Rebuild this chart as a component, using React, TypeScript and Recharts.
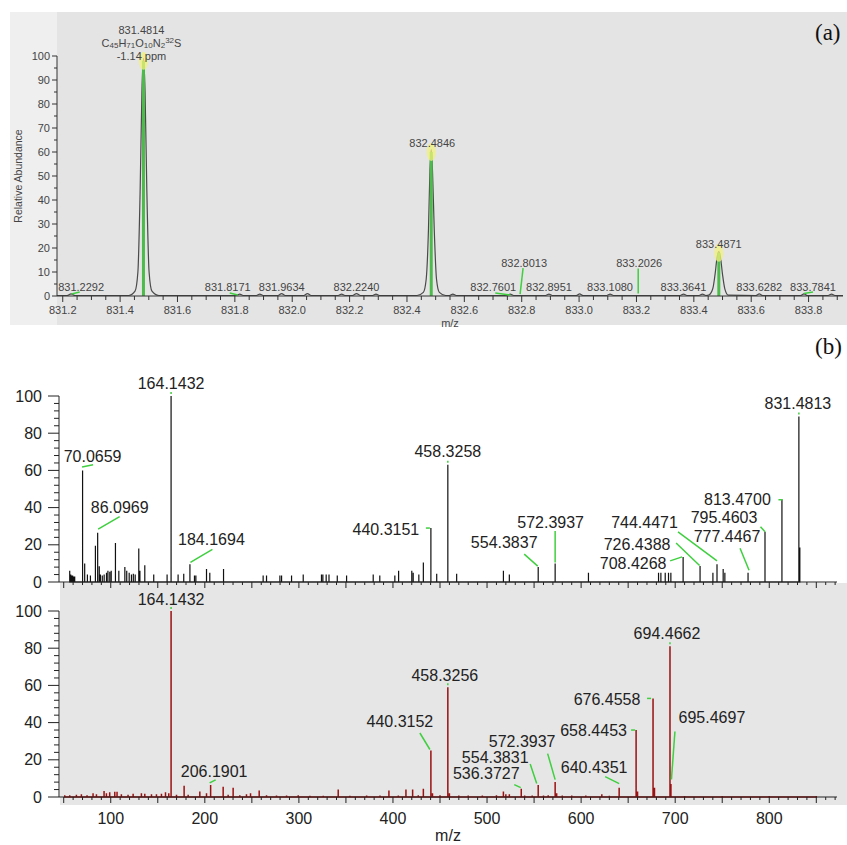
import { ComposedChart, Line, Scatter, XAxis, YAxis } from 'recharts';

const FONT = '"Liberation Sans", Arial, sans-serif';
const GREEN = '#3fcf3f';

// ---------- panel (a): isotope pattern ----------
const isoSticks: [number, number][] = [
  [831.4814, 98],
  [832.4846, 60],
  [833.4871, 18],
];

// profile trace (m/z, abundance)
const isoProfile: [number, number][] = [
  [831.18, 0.2], [831.215, 0.2], [831.229, 0.9], [831.243, 0.2],
  [831.43, 0.2], [831.452, 2], [831.462, 10], [831.47, 45], [831.476, 85], [831.4814, 99],
  [831.487, 85], [831.493, 45], [831.501, 10], [831.511, 2], [831.535, 0.2],
  [831.805, 0.2], [831.817, 0.8], [831.829, 0.2], [831.875, 0.2], [831.887, 0.8], [831.899, 0.2],
  [831.95, 0.2], [831.963, 1], [831.976, 0.2], [832.04, 0.2], [832.053, 1], [832.066, 0.2],
  [832.16, 0.2], [832.172, 0.8], [832.184, 0.2], [832.21, 0.2], [832.224, 1], [832.238, 0.2],
  [832.28, 0.2], [832.292, 0.8], [832.304, 0.2],
  [832.435, 0.2], [832.457, 1.5], [832.467, 7], [832.475, 28], [832.48, 52], [832.4846, 61],
  [832.489, 52], [832.495, 28], [832.503, 7], [832.513, 1.5], [832.535, 0.2],
  [832.548, 0.2], [832.56, 0.8], [832.572, 0.2],
  [832.748, 0.2], [832.76, 0.8], [832.772, 0.2], [832.883, 0.2], [832.895, 0.8], [832.907, 0.2],
  [832.99, 0.2], [833.002, 0.9], [833.014, 0.2], [833.096, 0.2], [833.108, 0.8], [833.12, 0.2],
  [833.352, 0.2], [833.364, 0.8], [833.376, 0.2], [833.418, 0.2], [833.43, 0.8], [833.442, 0.2],
  [833.452, 0.4], [833.466, 3], [833.474, 9], [833.481, 16], [833.4871, 18.5],
  [833.493, 16], [833.5, 9], [833.508, 3], [833.52, 0.4],
  [833.616, 0.2], [833.628, 0.9], [833.64, 0.2], [833.772, 0.2], [833.784, 0.9], [833.796, 0.2],
  [833.868, 0.2], [833.88, 0.8], [833.892, 0.2], [833.92, 0.2],
];

const isoLabels: [string, number][] = [
  ['831.2292', 1], ['831.8171', 1], ['831.9634', 1], ['832.2240', 1],
  ['832.4846', 60], ['832.7601', 1], ['832.8013', 1], ['832.8951', 1],
  ['833.1080', 1], ['833.2026', 1], ['833.3641', 1], ['833.4871', 18],
  ['833.6282', 1], ['833.7841', 1],
];
const isoMain = { mz: 831.4814, ab: 98, ppm: '-1.14 ppm' };

const isoXLabels = ['831.2', '831.4', '831.6', '831.8', '832.0', '832.2', '832.4', '832.6', '832.8', '833.0', '833.2', '833.4', '833.6', '833.8'];
const isoXTicks = Array.from({ length: 55 }, (_, i) => Math.round((831.2 + i * 0.05) * 100) / 100);
const isoYTicks = Array.from({ length: 21 }, (_, i) => i * 5);

// ---------- panel (b): MS/MS spectra ----------
const topPeaks: [number, number][] = [
  [56.4, 6], [57.5, 4], [58.5, 3.5], [59.5, 3.5], [60.5, 3], [61.7, 3],
  [70.0659, 60], [72.3, 10], [75.2, 4], [78.4, 3.5],
  [83.7, 19.5], [86.0969, 26.5], [87.8, 8.5], [89, 4], [91, 3.5], [93, 4], [95.5, 5], [97, 6], [99, 5.5], [100.5, 6],
  [105, 21], [108.6, 6], [115, 8], [117, 6], [119.6, 5], [122, 4], [124, 4.5], [126, 4], [129.8, 18], [131, 6], [136.2, 9],
  [145.7, 4], [159.9, 4], [164.1432, 100], [171.6, 4], [177.6, 4.5], [184.1694, 9.5], [189, 3.5], [190.5, 3.5],
  [201.8, 7], [205.3, 5], [219.9, 7],
  [262, 3.5], [265.6, 3.5], [279.8, 3.5], [281.6, 3.5], [292.2, 3.5], [304.6, 4], [324, 4], [325.5, 4], [329, 4], [332, 4],
  [340.8, 3.5], [350.7, 3.5], [379, 4], [386, 3.5], [402, 3.5], [406, 6], [420, 6], [421.5, 5], [427.5, 4], [432.3, 10.5],
  [440.3151, 29], [446.5, 4.5], [458.3258, 63], [467.7, 4.5], [517.4, 6], [523.7, 4], [554.3837, 8], [572.3937, 10],
  [607.8, 5], [682.3, 5], [684.8, 5], [689.4, 5], [692.9, 5], [695.4, 5],
  [708.4268, 13.5], [726.4388, 8.6], [740.1, 5], [744.4471, 9.5], [751, 7], [752.8, 5], [777.4467, 5],
  [795.4603, 27], [813.47, 44.5], [831.4813, 89], [832.5, 18.5],
];

const bottomPeaks: [number, number][] = [
  [51.1, 1], [56.4, 1], [63.5, 1.2], [68.8, 1.5], [74.8, 1], [81.2, 2], [84.8, 1.5], [92.9, 3.2], [95.4, 2],
  [98.9, 2.5], [104.3, 2.8], [106.7, 2.8], [111.3, 1.5], [118.4, 1.2], [123.8, 1.8], [132.6, 2], [136.2, 1.8],
  [143.3, 1.5], [148.6, 1.5], [153.9, 1.8], [158.2, 2.5], [161.7, 2], [164.1432, 100], [169.9, 1.2], [178, 6],
  [182.3, 1.2], [194.7, 3], [201.8, 2], [206.1901, 6.5], [219.5, 5.5], [224.8, 1.2], [230.1, 5], [237.2, 1],
  [244.3, 1.5], [248.6, 2], [257.8, 3.5], [265.6, 1], [276.2, 0.8], [286.9, 0.8], [299.3, 1], [311.7, 0.7],
  [325.9, 0.7], [341.8, 4], [354.2, 0.7], [372, 0.8], [386.2, 0.8], [395.7, 3.5], [405.7, 0.8], [413.8, 4],
  [420.9, 4], [426.9, 1], [432.3, 4.5], [440.3152, 25], [442, 2], [450, 1], [458.3256, 59], [460, 2], [470, 0.8],
  [480, 0.8], [495, 0.8], [510, 1], [517.4, 3], [520, 1.5], [523.7, 1.5], [536.3727, 4.5], [540, 0.8], [548, 0.8],
  [554.3831, 6.5], [560, 0.8], [565, 1], [572.3937, 8], [574, 2], [580, 0.8], [590, 0.8], [605, 0.8], [622, 1.5],
  [630, 0.7], [640.4351, 5], [658.4453, 36], [660, 3], [676.4558, 53], [678, 5], [694.4662, 81], [695.4697, 7],
  [710, 0.5], [750, 0.5], [800, 0.5], [850, 0.5],
];

const topLabels: [string, number][] = [
  ['70.0659', 60], ['86.0969', 26.5], ['164.1432', 100], ['184.1694', 9.5], ['440.3151', 29], ['458.3258', 63],
  ['554.3837', 8], ['572.3937', 10], ['708.4268', 13.5], ['726.4388', 8.6], ['744.4471', 9.5], ['777.4467', 5],
  ['795.4603', 27], ['813.4700', 44.5], ['831.4813', 89],
];
const bottomLabels: [string, number][] = [
  ['164.1432', 100], ['206.1901', 6.5], ['440.3152', 25], ['458.3256', 59], ['536.3727', 4.5], ['554.3831', 6.5],
  ['572.3937', 8], ['640.4351', 5], ['658.4453', 36], ['676.4558', 53], ['694.4662', 81], ['695.4697', 7],
];

const specXTicks = Array.from({ length: 83 }, (_, i) => 50 + i * 10);
const specYTicks = Array.from({ length: 26 }, (_, i) => i * 4);

// label placement: t = text centre offset, l = green leader (x1,y1,x2,y2) from the peak top
type Pos = { t: [number, number]; l?: [number, number, number, number] };
const ABOVE: Pos = { t: [0, -13], l: [0, -2, 0, -4] };

const isoPos: Record<string, Pos> = {
  '831.2292': { t: [10, -7], l: [0.5, 0.5, 8.5, -1.5] },
  '831.8171': { t: [-12, -7], l: [-10, -0.5, -2, 1.5] },
  '831.9634': { t: [0, -7] },
  '832.2240': { t: [0, -7] },
  '832.4846': { t: [1, -9] },
  '832.7601': { t: [-17, -7], l: [-15, -0.5, 0, 1.5] },
  '832.8013': { t: [2, -31], l: [-2, 0.5, 1, -25.5] },
  '832.8951': { t: [0, -7] },
  '833.1080': { t: [0, -7] },
  '833.2026': { t: [2, -31], l: [1, 0, 1, -25] },
  '833.3641': { t: [0, -7] },
  '833.4871': { t: [0, -9] },
  '833.6282': { t: [0, -7] },
  '833.7841': { t: [9, -7], l: [0, 0, 9, -1.5] },
};

const topPos: Record<string, Pos> = {
  '70.0659': { t: [10, -14], l: [-0.5, -3.5, 10.5, -5.7] },
  '86.0969': { t: [22, -25], l: [0.5, -3.5, 22, -16] },
  '184.1694': { t: [21.5, -24.5], l: [0.5, -2, 22.5, -15] },
  '440.3151': { t: [-45, 1], l: [-5, 0, -1, 0] },
  '554.3837': { t: [-34, -25], l: [-14, -13, -0.5, -1] },
  '572.3937': { t: [-4.5, -41], l: [0, -1, 0, -32.5] },
  '708.4268': { t: [-50, 7], l: [-13, 4, -1, 0] },
  '726.4388': { t: [-63, -22], l: [-24, -23, -0.5, -0.5] },
  '744.4471': { t: [-72.5, -41.5], l: [-39, -32.5, 0, -3.5] },
  '777.4467': { t: [-21, -36], l: [-8, -24.5, 1, -2.5] },
  '795.4603': { t: [-41, -14], l: [-4.5, -5, 0, 0] },
  '813.4700': { t: [-44.5, 0.5], l: [-3.5, 0.5, 0.5, 0.5] },
  '831.4813': { t: [-1, -13], l: [0, -2, 0, -4] },
};

const bottomPos: Record<string, Pos> = {
  '164.1432': { t: [0, -12], l: [0, -2, 0, -4] },
  '206.1901': { t: [3.5, -13], l: [-1, -2, 5, -5] },
  '440.3152': { t: [-31, -29], l: [-11, -17.5, -1, -1] },
  '458.3256': { t: [-3, -12], l: [0, -2, 0, -4] },
  '536.3727': { t: [-35, -15], l: [-7, -4, -0.5, -1] },
  '554.3831': { t: [-43, -27], l: [-8, -21, -1.5, -1.5] },
  '572.3937': { t: [-33, -41], l: [-7.5, -28.5, 0, -2.5] },
  '640.4351': { t: [-25, -20], l: [-14, -11, 0, -4] },
  '658.4453': { t: [-42.5, 0], l: [-5, 0, -1, 0] },
  '676.4558': { t: [-46, 1], l: [-6, 0, -2, 0] },
  '694.4662': { t: [-3, -13], l: [0, -2, 0, -4] },
  '695.4697': { t: [41, -66], l: [0.5, -4.5, 4, -52.5] },
};

const toSticks = (peaks: [number, number][]) =>
  [...peaks].sort((a, b) => a[0] - b[0]).flatMap(([m, h]) => [{ m, v: 0 }, { m, v: h }, { m, v: 0 }]);
const toBars = (peaks: [number, number][]) =>
  peaks.flatMap(([m, h]) => [{ m, v: 0 }, { m, v: h }, { m, v: null }]);
const toLabels = (labels: [string, number][]) => labels.map(([text, h]) => ({ m: parseFloat(text), v: h, text }));

const makeLabel = (pos: Record<string, Pos>, size: number, color: string) => (props: any) => {
  const { cx, cy, payload } = props;
  const p = pos[payload.text] ?? ABOVE;
  return (
    <g>
      {p.l && (
        <line x1={cx + p.l[0]} y1={cy + p.l[1]} x2={cx + p.l[2]} y2={cy + p.l[3]} stroke={GREEN} strokeWidth={1.5} />
      )}
      <text x={cx + p.t[0]} y={cy + p.t[1]} textAnchor="middle" dominantBaseline="central"
        fontSize={size} fill={color} fontFamily={FONT}>
        {payload.text}
      </text>
    </g>
  );
};

const MainIsoLabel = (props: any) => {
  const { cx, cy } = props;
  const st = { fontSize: 11, fill: '#444', fontFamily: FONT } as const;
  return (
    <g>
      <text x={cx - 2} y={cy - 31} textAnchor="middle" dominantBaseline="central" {...st}>{isoMain.mz.toFixed(4)}</text>
      <text x={cx - 2} y={cy - 18} textAnchor="middle" dominantBaseline="central" {...st}>
        C<tspan dy={2} fontSize={8}>45</tspan>
        <tspan dy={-2}>H</tspan><tspan dy={2} fontSize={8}>71</tspan>
        <tspan dy={-2}>O</tspan><tspan dy={2} fontSize={8}>10</tspan>
        <tspan dy={-2}>N</tspan><tspan dy={2} fontSize={8}>2</tspan>
        <tspan dy={-5} fontSize={8}>32</tspan><tspan dy={3}>S</tspan>
      </text>
      <text x={cx - 2} y={cy - 5} textAnchor="middle" dominantBaseline="central" {...st}>{isoMain.ppm}</text>
    </g>
  );
};

const Glow = (props: any) => (
  <ellipse cx={props.cx} cy={props.cy} rx={4.5} ry={9} fill="#f2f27a" opacity={0.75} />
);

const IsoXTick = (props: any) => {
  const { x, y, payload } = props;
  const v = payload.value as number;
  const major = Math.round(v * 100) % 20 === 0;
  const lbl = isoXLabels.find((s) => Math.abs(parseFloat(s) - v) < 1e-6);
  return (
    <g>
      <line x1={x} y1={y} x2={x} y2={y + (major ? 6 : 4)} stroke="#333" />
      {lbl && (
        <text x={x} y={y + 14} textAnchor="middle" dominantBaseline="central" fontSize={11} fill="#444" fontFamily={FONT}>
          {lbl}
        </text>
      )}
    </g>
  );
};

const IsoYTick = (props: any) => {
  const { x, y, payload } = props;
  const v = payload.value as number;
  const major = v % 10 === 0;
  return (
    <g>
      <line x1={x} y1={y} x2={x - (major ? 5 : 3)} y2={y} stroke="#333" />
      {major && (
        <text x={x - 7} y={y} textAnchor="end" dominantBaseline="central" fontSize={11} fill="#444" fontFamily={FONT}>
          {v}
        </text>
      )}
    </g>
  );
};

const SpecYTick = (props: any) => {
  const { x, y, payload } = props;
  const v = payload.value as number;
  const major = v % 20 === 0;
  return (
    <g>
      <line x1={x} y1={y} x2={x - (major ? 11 : 5)} y2={y} stroke="#222" />
      {major && (
        <text x={x - 17} y={y} textAnchor="end" dominantBaseline="central" fontSize={16} fill="#222" fontFamily={FONT}>
          {v}
        </text>
      )}
    </g>
  );
};

const makeSpecXTick = (showLabels: boolean) => (props: any) => {
  const { x, y, payload } = props;
  const v = payload.value as number;
  const major = v % 50 === 0;
  return (
    <g>
      <line x1={x} y1={y} x2={x} y2={y + (major ? 6 : 3)} stroke="#222" />
      {showLabels && v % 100 === 0 && (
        <text x={x} y={y + 21} textAnchor="middle" dominantBaseline="central" fontSize={16} fill="#222" fontFamily={FONT}>
          {v}
        </text>
      )}
    </g>
  );
};

export default function App() {
  const profileData = isoProfile.map(([m, v]) => ({ m, v }));
  const isoTops = isoSticks.map(([m, v]) => ({ m, v }));
  return (
    <div style={{ position: 'absolute', left: 0, top: 0, width: 847, height: 845, background: '#fff', overflow: 'hidden' }}>
      {/* panel (a) backgrounds */}
      <div style={{ position: 'absolute', left: 10, top: 12, width: 837, height: 313, background: '#efefef' }} />
      <div style={{ position: 'absolute', left: 57, top: 12, width: 790, height: 313, background: '#e4e4e4' }} />
      <div style={{ position: 'absolute', left: 10, top: 12 }}>
        <ComposedChart width={837} height={318} margin={{ top: 44, right: 4, left: 0, bottom: 0 }}>
          <XAxis type="number" dataKey="m" domain={[831.18, 833.92]} ticks={isoXTicks} interval={0}
            tickSize={0} tickMargin={0} tickLine={false} tick={<IsoXTick />} height={34}
            axisLine={{ stroke: '#333' }}
            label={{ value: 'm/z', position: 'insideBottom', offset: 3, style: { fontSize: 11, fill: '#444', fontFamily: FONT } }} />
          <YAxis type="number" domain={[0, 100]} ticks={isoYTicks} interval={0} width={47}
            tickSize={0} tickMargin={0} tickLine={false} tick={<IsoYTick />} axisLine={{ stroke: '#333' }}
            label={{ value: 'Relative Abundance', angle: -90, position: 'insideLeft', offset: 8,
              style: { textAnchor: 'middle', fontSize: 10.5, fill: '#444', fontFamily: FONT } }} />
          <Scatter data={isoTops} dataKey="v" shape={<Glow />} isAnimationActive={false} />
          <Line data={profileData} dataKey="v" type="monotone" stroke="#4a4a4a" strokeWidth={1.2} dot={false} isAnimationActive={false} />
          <Line data={toBars(isoSticks)} dataKey="v" type="linear" stroke="#4cbb4c" strokeWidth={3} dot={false} isAnimationActive={false} />
          <Scatter data={toLabels(isoLabels)} dataKey="v" shape={makeLabel(isoPos, 11, '#444')} isAnimationActive={false} />
          <Scatter data={[{ m: isoMain.mz, v: isoMain.ab }]} dataKey="v" shape={<MainIsoLabel />} isAnimationActive={false} />
        </ComposedChart>
      </div>
      <div style={{ position: 'absolute', left: 815, top: 20, fontSize: 23, fontFamily: '"Liberation Serif", serif', color: '#111' }}>(a)</div>

      {/* panel (b) bottom (red) */}
      <div style={{ position: 'absolute', left: 60, top: 583, width: 787, height: 222, background: '#e6e6e6' }} />
      <div style={{ position: 'absolute', left: 0, top: 583 }}>
        <ComposedChart width={847} height={262} margin={{ top: 28, right: 10, left: 0, bottom: 0 }}>
          <XAxis type="number" dataKey="m" domain={[45, 872]} ticks={specXTicks} interval={0}
            tickSize={0} tickMargin={0} tickLine={false} tick={makeSpecXTick(true)} height={48}
            axisLine={{ stroke: '#222' }}
            label={{ value: 'm/z', position: 'insideBottom', offset: 4, style: { fontSize: 16, fill: '#222', fontFamily: FONT } }} />
          <YAxis type="number" domain={[0, 100]} ticks={specYTicks} interval={0} width={59}
            tickSize={0} tickMargin={0} tickLine={false} tick={<SpecYTick />} axisLine={{ stroke: '#222' }} />
          <Line data={toSticks(bottomPeaks)} dataKey="v" type="linear" stroke="#9b1111" strokeWidth={1.5} dot={false} isAnimationActive={false} />
          <Scatter data={toLabels(bottomLabels)} dataKey="v" shape={makeLabel(bottomPos, 16, '#222')} isAnimationActive={false} />
        </ComposedChart>
      </div>

      {/* panel (b) top (black) */}
      <div style={{ position: 'absolute', left: 0, top: 335 }}>
        <ComposedChart width={847} height={255} margin={{ top: 61, right: 10, left: 0, bottom: 0 }}>
          <XAxis type="number" dataKey="m" domain={[45, 872]} ticks={specXTicks} interval={0}
            tickSize={0} tickMargin={0} tickLine={false} tick={makeSpecXTick(false)} height={8}
            axisLine={{ stroke: '#222' }} />
          <YAxis type="number" domain={[0, 100]} ticks={specYTicks} interval={0} width={59}
            tickSize={0} tickMargin={0} tickLine={false} tick={<SpecYTick />} axisLine={{ stroke: '#222' }} />
          <Line data={toSticks(topPeaks)} dataKey="v" type="linear" stroke="#111" strokeWidth={1.2} dot={false} isAnimationActive={false} />
          <Scatter data={toLabels(topLabels)} dataKey="v" shape={makeLabel(topPos, 16, '#222')} isAnimationActive={false} />
        </ComposedChart>
      </div>
      <div style={{ position: 'absolute', left: 815, top: 334, fontSize: 23, fontFamily: '"Liberation Serif", serif', color: '#111' }}>(b)</div>
    </div>
  );
}
